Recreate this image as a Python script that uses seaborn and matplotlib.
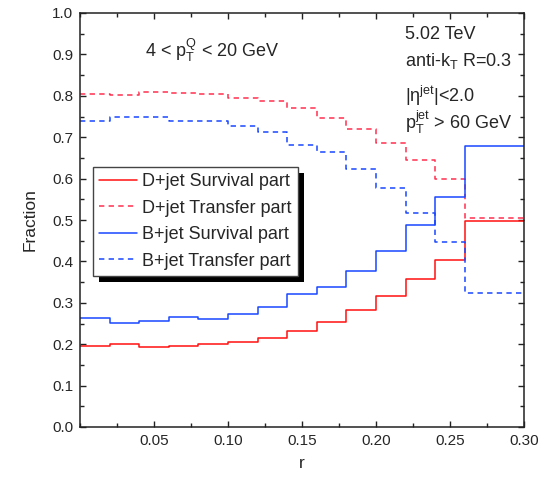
import matplotlib
matplotlib.use("Agg")
import matplotlib.pyplot as plt
import seaborn as sns
import pandas as pd
import numpy as np
from matplotlib.patches import Rectangle
from matplotlib.ticker import MultipleLocator, FixedLocator

# ---- data ----
edges = [0.00, 0.02, 0.04, 0.06, 0.08, 0.10, 0.12, 0.14, 0.16, 0.18, 0.20, 0.22, 0.24, 0.26, 0.30]
d_surv = [0.196, 0.200, 0.194, 0.196, 0.200, 0.205, 0.216, 0.232, 0.254, 0.282, 0.316, 0.357, 0.404, 0.498]
d_trans = [0.805, 0.801, 0.808, 0.806, 0.804, 0.795, 0.787, 0.771, 0.747, 0.721, 0.685, 0.645, 0.598, 0.506]
b_surv = [0.263, 0.252, 0.257, 0.265, 0.262, 0.274, 0.290, 0.322, 0.337, 0.378, 0.426, 0.487, 0.555, 0.679]
b_trans = [0.740, 0.750, 0.748, 0.739, 0.738, 0.728, 0.713, 0.680, 0.665, 0.624, 0.577, 0.516, 0.447, 0.324]
series_names = ["D+jet Survival part", "D+jet Transfer part",
                "B+jet Survival part", "B+jet Transfer part"]
x_ticks = [0.05, 0.10, 0.15, 0.20, 0.25, 0.30]
x_ticklabels = ["0.05", "0.10", "0.15", "0.20", "0.25", "0.30"]
y_ticks = [0.0, 0.1, 0.2, 0.3, 0.4, 0.5, 0.6, 0.7, 0.8, 0.9, 1.0]

rows = []
for name, vals in zip(series_names, [d_surv, d_trans, b_surv, b_trans]):
    ext = list(vals) + [vals[-1]]
    for x, y in zip(edges, ext):
        rows.append({"r": x, "Fraction": y, "series": name})
df = pd.DataFrame(rows)

sns.set_style("ticks")
plt.rcParams["font.family"] = ["Liberation Sans", "DejaVu Sans"]
plt.rcParams["mathtext.fontset"] = "custom"
plt.rcParams["mathtext.rm"] = "Liberation Sans"
plt.rcParams["mathtext.it"] = "Liberation Sans:italic"
plt.rcParams["mathtext.bf"] = "Liberation Sans:bold"

fig = plt.figure(figsize=(5.52, 4.79), dpi=100)
ax = fig.add_axes([80/552, 1 - 427/479, 444/552, 414/479])

red = "#ff1010"
blue = "#1a47ff"
palette = {series_names[0]: red, series_names[1]: "#ff3050",
           series_names[2]: blue, series_names[3]: "#1a47ff"}
dashes = {series_names[0]: "", series_names[1]: (3.5, 2.8),
          series_names[2]: "", series_names[3]: (3.5, 2.8)}

sns.lineplot(data=df, x="r", y="Fraction", hue="series", style="series",
             hue_order=series_names, style_order=series_names,
             palette=palette, dashes=dashes, drawstyle="steps-post",
             estimator=None, sort=False, linewidth=1.1, legend=False, ax=ax)

ax.set_xlim(0, 0.30)
ax.set_ylim(0, 1.0)
ax.xaxis.set_major_locator(FixedLocator(x_ticks))
ax.set_xticklabels(x_ticklabels)
ax.xaxis.set_minor_locator(MultipleLocator(0.025))
ax.yaxis.set_major_locator(FixedLocator(y_ticks))
ax.set_yticklabels([f"{v:.1f}" for v in y_ticks])
ax.yaxis.set_minor_locator(MultipleLocator(0.05))
ax.tick_params(which="both", direction="in", top=True, right=True,
               labelsize=11, width=1.0, color="#222222")
ax.tick_params(which="major", length=4.5, pad=5)
ax.tick_params(which="minor", length=3)
for s in ax.spines.values():
    s.set_linewidth(1.1)
    s.set_color("#222222")

ax.set_xlabel("r", fontsize=12.5, labelpad=6)
ax.set_ylabel("Fraction", fontsize=12.5, labelpad=10)

# annotations (positions in pixels, baseline anchored)
ann_kw = dict(transform=None, fontsize=13, va="baseline", ha="left")
ax.text(145, 479 - 57, r"4 < $\mathrm{p}_\mathrm{T}^\mathrm{Q}$ < 20 GeV", **ann_kw)
ax.text(405, 479 - 39, "5.02 TeV", **ann_kw)
ax.text(405, 479 - 66, r"anti-$\mathrm{k}_\mathrm{T}$ R=0.3", **ann_kw)
ax.text(405, 479 - 102, r"|$\mathrm{η}^\mathrm{jet}$|<2.0", **ann_kw)
ax.text(405, 479 - 129, r"$\mathrm{p}_\mathrm{T}^\mathrm{jet}$ > 60 GeV", **ann_kw)

leg = ax.legend(handles=ax.lines[:4], labels=series_names,
                loc="upper left", bbox_to_anchor=((92.7 - 80) / 444, (427 - 166.7) / 414),
                borderaxespad=0, fontsize=13, frameon=True, fancybox=False,
                edgecolor="#444444", framealpha=1, handlelength=2.1,
                handletextpad=0.3, borderpad=0.35, labelspacing=0.53)
leg.get_frame().set_linewidth(1.0)
leg.set_zorder(6)

fig.canvas.draw()
bb = leg.get_window_extent().transformed(ax.transAxes.inverted())
dx = 6 / 444
dy = 6 / 414
ax.add_patch(Rectangle((bb.x0 + dx, bb.y0 - dy), bb.width, bb.height,
                       transform=ax.transAxes, facecolor="black",
                       edgecolor="none", zorder=5.5, clip_on=False))

fig.savefig("out.png", dpi=100)
